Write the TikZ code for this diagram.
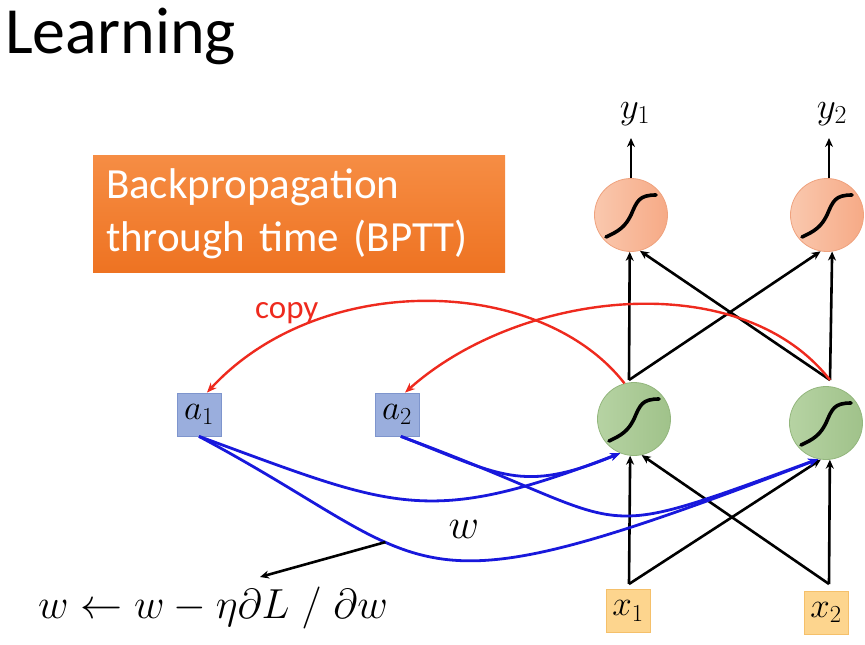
\RequirePackage{fix-cm}
\documentclass[tikz,border=0pt]{standalone}
\usepackage[no-math]{fontspec}
\setmainfont{Carlito}
\usepackage{tikz}
\usetikzlibrary{arrows.meta,calc}
\tikzset{>=Stealth}
\definecolor{BoxTop}{HTML}{F68D44}
\definecolor{BoxBot}{HTML}{EE7322}
\definecolor{OutL}{HTML}{FAC8AE}
\definecolor{OutR}{HTML}{F6AA86}
\definecolor{OutD}{HTML}{EFA27E}
\definecolor{HidL}{HTML}{B6D3A3}
\definecolor{HidR}{HTML}{A0C28A}
\definecolor{HidD}{HTML}{93B67D}
\definecolor{MemFill}{HTML}{9AAEDD}
\definecolor{MemDraw}{HTML}{7E95CD}
\definecolor{InFill}{HTML}{FDD58E}
\definecolor{InDraw}{HTML}{F5C06A}
\definecolor{CopyRed}{HTML}{EE2A1E}
\definecolor{WBlue}{HTML}{1818DC}

\begin{document}
\begin{tikzpicture}[x=1pt,y=-1pt]
  \tikzset{
    neuron/.style={circle, minimum size=73pt, inner sep=0pt, line width=0.8pt},
    outn/.style={neuron, draw=OutD, left color=OutL, right color=OutR},
    hidn/.style={neuron, draw=HidD, left color=HidL, right color=HidR},
    mem/.style={rectangle, minimum width=44pt, minimum height=43pt, inner sep=0pt,
      draw=MemDraw, fill=MemFill, line width=0.8pt, font=\fontsize{35}{38}\selectfont},
    inp/.style={mem, draw=InDraw, fill=InFill},
    lbl/.style={anchor=base, inner sep=0pt, font=\fontsize{37}{40}\selectfont},
    link/.style={->, line width=2.6pt, black, >={Stealth[length=9pt,width=8pt]}},
    copyarr/.style={->, line width=2.4pt, CopyRed, >={Stealth[length=10pt,width=8pt]}},
    warr/.style={->, line width=2.8pt, WBlue, >={Stealth[length=10pt,width=8pt]}},
    sigm/.pic={\draw[line width=3.6pt, line cap=round]
      (-25,22) .. controls (-12,16) and (-6,12) .. (0,0)
      .. controls (6,-14) and (8,-20) .. (25,-20);}
  }
  \useasboundingbox (0,0) rectangle (865,645);

  \node[anchor=base west, inner sep=0pt, font=\fontsize{66}{72}\selectfont] (ttl) at (5,53) {Learning};
  \node[rectangle, minimum width=412pt, minimum height=117pt, text width=386pt,
    inner xsep=13pt, inner ysep=0pt, align=left, top color=BoxTop, bottom color=BoxBot,
    text=white, font=\fontsize{43}{53}\selectfont] (bp) at (299,213.5)
    {Backpropagation\\through time (BPTT)};

  % neurons and boxes
  \node[outn] (o1) at (631,215) {};
  \node[outn] (o2) at (827,215) {};
  \node[hidn] (h1) at (634,419) {};
  \node[hidn] (h2) at (826,423) {};
  \node[mem] (a1) at (199,414.5) {$a_1$};
  \node[mem] (a2) at (397,414.5) {$a_2$};
  \node[inp] (x1) at (628,611) {$x_1$};
  \node[inp] (x2) at (826,612.5) {$x_2$};
  \node[lbl] (ly1) at (635,118) {$y_1$};
  \node[lbl] (ly2) at (832,118) {$y_2$};
  \foreach \n in {o1,o2,h1,h2} \pic at (\n) {sigm};

  \coordinate (ty1) at (631,138);
  \coordinate (ty2) at (829,138);
  \coordinate (t1) at (629,380);
  \coordinate (t2) at (830,380);
  \coordinate (b1) at (629,584);
  \coordinate (b2) at (829,584);
  \coordinate (eqtip) at (260,577);

  \draw[link] (o1.north) -- (ty1);
  \draw[link] (ty2 |- o2.north) -- (ty2);
  \foreach \s/\e in {t1/o1.-92, t1/o2.-100, t2/o2.-82, t2/o1.-76,
                     b1/h1.-96, b1/h2.-98, b2/h2.-84, b2/h1.-78}{
    \draw[link] (\s) -- (\e);
  }

  % copy
  \draw[copyarr] (h1.105) .. controls (540,275) and (320,270) .. (a1.70);
  \draw[copyarr] (t2) .. controls (740,265) and (520,290) .. (a2.70);
  \node[anchor=base west, inner sep=0pt, text=CopyRed, font=\fontsize{33}{36}\selectfont] (cp) at (255,318) {copy};

  % weights
  \draw[warr] (a1.south) .. controls (395,508) and (426,528) .. (h1.-112);
  \draw[warr] (a1.south) .. controls (446,568) and (393,623) .. (h2.-102)
    coordinate[pos=0.36] (wp);
  \draw[warr] (a2.-80) .. controls (501,475) and (521,494) .. (h1.-112);
  \draw[warr] (a2.-80) .. controls (647,527) and (576,547) .. (h2.-102);
  \node[anchor=base, inner sep=0pt, font=\fontsize{42}{46}\selectfont] (wl) at (464,538) {$w$};

  \draw[link] (wp) -- (eqtip);
  \node[anchor=base west, inner sep=0pt, font=\fontsize{42}{46}\selectfont] (eq) at (38,618)
    {$w \leftarrow w - \eta\partial L \;/\; \partial w$};
\end{tikzpicture}
\end{document}
